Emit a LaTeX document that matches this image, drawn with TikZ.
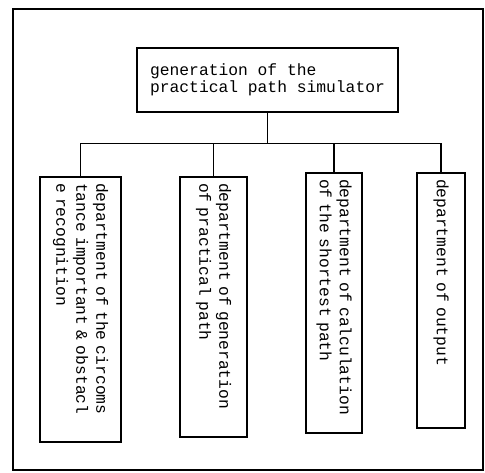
\documentclass[tikz,border=0pt]{standalone}
\usepackage{fontspec}
\setmonofont{Liberation Mono}
\begin{document}
\begin{tikzpicture}[x=1pt,y=1pt,line width=1.1pt,
  box/.style={draw=black,rectangle,inner sep=0pt},
  dept/.style={box,rotate=-90,align=left,inner xsep=6pt,
    font=\ttfamily\fontsize{16.3}{20}\selectfont}]
\useasboundingbox (0,0) rectangle (485,-472);
\draw [black] (13,-9) rectangle (483,-470);
\node [box,minimum width=261,minimum height=64,align=left,
  font=\ttfamily\fontsize{16.3}{17.5}\selectfont] (sim) at (267.5,-80)
  {generation of the\\practical path simulator};
\coordinate (bus) at (0,-143.5);
\node [dept,text width=253,minimum height=81] (recog) at (80.5,-309.5)
  {department of the circoms\\tance important \& obstacl\\e recognition};
\node [dept,text width=248,minimum height=67] (gen) at (213.5,-307)
  {department of generation\\of practical path};
\node [dept,text width=248,minimum height=56] (calc) at (334,-303)
  {department of calculation\\of the shortest path};
\node [dept,text width=243,minimum height=48] (out) at (441,-300.5)
  {department of output};
\draw [black] (sim.south) -- (sim.south |- bus);
\draw [black] (recog.west) -- (recog.west |- bus) -- (out.west |- bus) -- (out.west);
\draw [black] (gen.west) -- (gen.west |- bus);
\draw [black] (calc.west) -- (calc.west |- bus);
\end{tikzpicture}
\end{document}
